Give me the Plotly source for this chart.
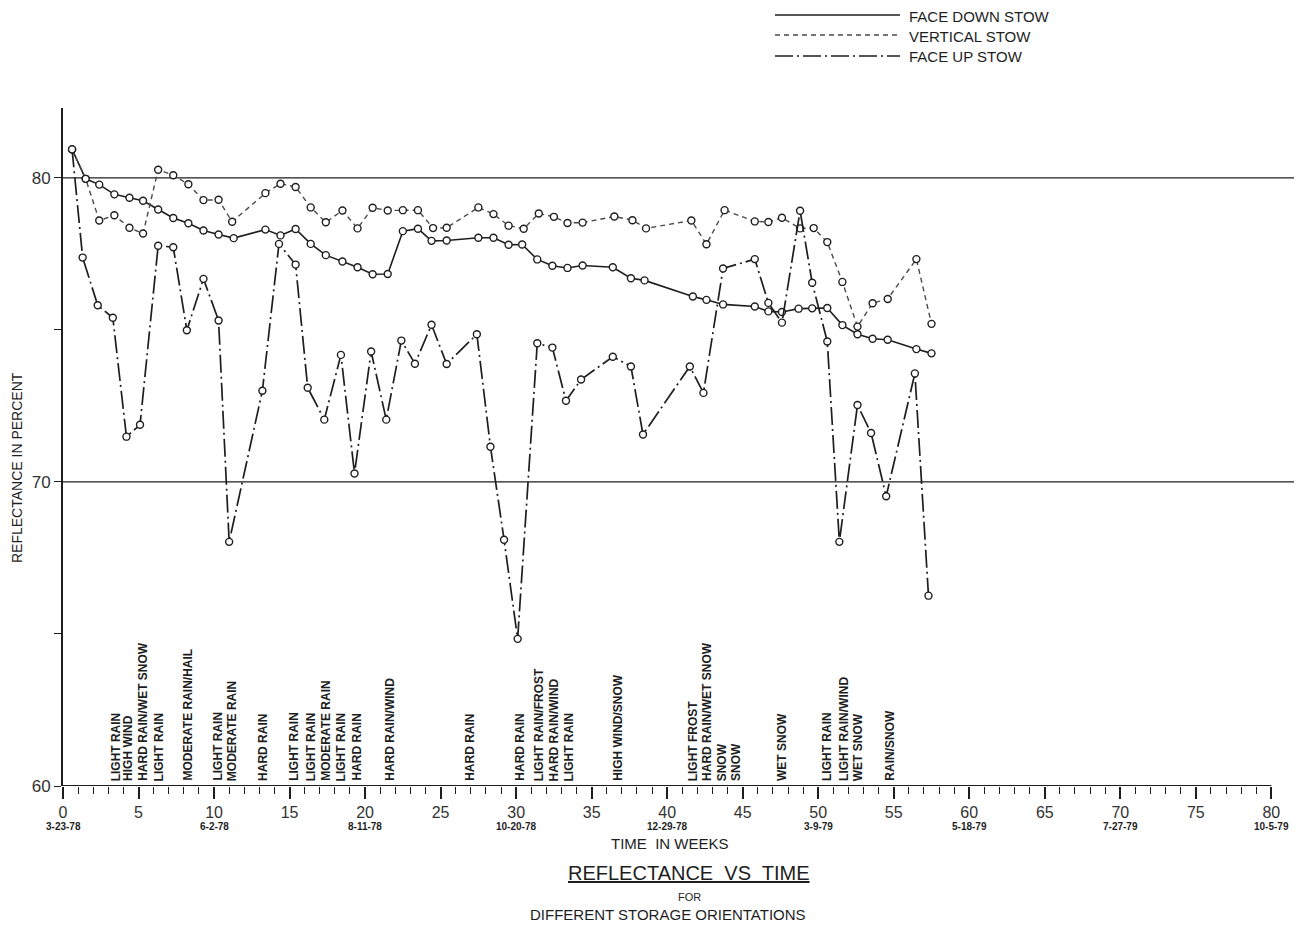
import plotly.graph_objects as go

# ---------------- data ----------------
weeks_down = [0.6, 1.5, 2.4, 3.4, 4.4, 5.3, 6.3, 7.3, 8.3, 9.3, 10.3, 11.3, 13.4, 14.4, 15.4,
              16.4, 17.4, 18.5, 19.5, 20.5, 21.5, 22.5, 23.5, 24.4, 25.4, 27.5, 28.5, 29.5,
              30.4, 31.4, 32.4, 33.4, 34.4, 36.4, 37.6, 38.5, 41.7, 42.6, 43.7, 45.8, 46.7,
              47.6, 48.7, 49.6, 50.6, 51.6, 52.6, 53.6, 54.6, 56.5, 57.5]
refl_down = [80.94, 79.97, 79.78, 79.46, 79.35, 79.25, 78.96, 78.68, 78.51, 78.27, 78.14, 78.02,
             78.30, 78.11, 78.32, 77.83, 77.46, 77.25, 77.06, 76.83, 76.84, 78.25, 78.33, 77.93,
             77.94, 78.03, 78.03, 77.80, 77.81, 77.32, 77.11, 77.04, 77.12, 77.06, 76.70, 76.63,
             76.10, 75.99, 75.84, 75.77, 75.61, 75.59, 75.70, 75.71, 75.72, 75.16, 74.86, 74.71,
             74.68, 74.37, 74.23]

weeks_vert = [0.6, 1.5, 2.4, 3.4, 4.4, 5.3, 6.3, 7.3, 8.3, 9.3, 10.3, 11.2, 13.4, 14.4, 15.4,
              16.4, 17.4, 18.5, 19.5, 20.5, 21.5, 22.5, 23.5, 24.5, 25.4, 27.5, 28.5, 29.5,
              30.5, 31.5, 32.5, 33.4, 34.4, 36.5, 37.7, 38.6, 41.6, 42.6, 43.8, 45.8, 46.7,
              47.6, 48.8, 49.7, 50.6, 51.6, 52.6, 53.6, 54.6, 56.5, 57.5]
refl_vert = [80.94, 79.97, 78.60, 78.77, 78.36, 78.17, 80.27, 80.09, 79.79, 79.27, 79.28, 78.56,
             79.50, 79.81, 79.70, 79.03, 78.54, 78.93, 78.34, 79.02, 78.93, 78.94, 78.94, 78.35,
             78.36, 79.03, 78.81, 78.43, 78.33, 78.83, 78.72, 78.52, 78.53, 78.73, 78.61, 78.34,
             78.60, 77.82, 78.94, 78.57, 78.55, 78.69, 78.34, 78.35, 77.89, 76.58, 75.11, 75.88,
             76.02, 77.33, 75.20]

weeks_up = [0.6, 1.3, 2.3, 3.3, 4.2, 5.1, 6.3, 7.3, 8.2, 9.3, 10.3, 11.0, 13.2, 14.3, 15.4,
            16.2, 17.3, 18.4, 19.3, 20.4, 21.4, 22.4, 23.3, 24.4, 25.4, 27.4, 28.3, 29.2,
            30.1, 31.4, 32.4, 33.3, 34.3, 36.4, 37.6, 38.4, 41.5, 42.4, 43.7, 45.8, 46.7,
            47.6, 48.8, 49.6, 50.6, 51.4, 52.6, 53.5, 54.5, 56.4, 57.3]
refl_up = [80.94, 77.38, 75.81, 75.40, 71.49, 71.88, 77.77, 77.72, 74.99, 76.68, 75.31, 68.03,
           73.00, 77.83, 77.15, 73.10, 72.05, 74.18, 70.28, 74.29, 72.05, 74.65, 73.89, 75.17,
           73.88, 74.86, 71.16, 68.10, 64.84, 74.56, 74.42, 72.67, 73.37, 74.12, 73.80, 71.56,
           73.80, 72.93, 77.02, 77.33, 75.89, 75.24, 78.92, 76.55, 74.62, 68.03, 72.53, 71.61,
           69.53, 73.57, 66.26]

weather_weeks = [3.5, 4.3, 5.25, 6.35, 8.25, 10.2, 11.2, 13.2, 15.25, 16.4, 17.4, 18.4, 19.4,
                 21.6, 26.9, 30.2, 31.5, 32.5, 33.5, 36.7, 41.7, 42.6, 43.65, 44.55, 47.6,
                 50.55, 51.7, 52.65, 54.7]
weather_labels = ["LIGHT RAIN", "HIGH WIND", "HARD RAIN/WET SNOW", "LIGHT RAIN",
                  "MODERATE RAIN/HAIL", "LIGHT RAIN", "MODERATE RAIN", "HARD RAIN",
                  "LIGHT RAIN", "LIGHT RAIN", "MODERATE RAIN", "LIGHT RAIN", "HARD RAIN",
                  "HARD RAIN/WIND", "HARD RAIN", "HARD RAIN", "LIGHT RAIN/FROST",
                  "HARD RAIN/WIND", "LIGHT RAIN", "HIGH WIND/SNOW", "LIGHT FROST",
                  "HARD RAIN/WET SNOW", "SNOW", "SNOW", "WET SNOW", "LIGHT RAIN",
                  "LIGHT RAIN/WIND", "WET SNOW", "RAIN/SNOW"]

x_ticks = list(range(0, 81, 5))
x_tick_labels = [str(v) for v in x_ticks]
date_weeks = [0, 10, 20, 30, 40, 50, 60, 70, 80]
date_labels = ["3-23-78", "6-2-78", "8-11-78", "10-20-78", "12-29-78",
               "3-9-79", "5-18-79", "7-27-79", "10-5-79"]
y_ticks = [60, 65, 70, 75, 80]
y_tick_labels = ["60", "", "70", "", "80"]
grid_levels = [70, 80]

series_names = ["FACE DOWN STOW", "VERTICAL STOW", "FACE UP STOW"]

# ---------------- styling ----------------
INK = "#1e1e1e"
FONT = "Liberation Sans"
dash_styles = ["solid", "5px,4px", "18px,4px,2px,4px"]
line_colors = [INK, "#4a4a4a", INK]
line_widths = [1.6, 1.4, 1.7]

fig = go.Figure()
for name, xs, ys, dash, col, lw in zip(series_names,
                                        [weeks_down, weeks_vert, weeks_up],
                                        [refl_down, refl_vert, refl_up],
                                        dash_styles, line_colors, line_widths):
    fig.add_trace(go.Scatter(
        x=xs, y=ys, name=name, mode="lines+markers",
        line=dict(color=col, width=lw, dash=dash),
        marker=dict(symbol="circle", size=7, color="white",
                    line=dict(color=INK, width=1.4)),
        showlegend=False,
    ))

shapes = []
# horizontal reference lines
for g in grid_levels:
    shapes.append(dict(type="line", xref="paper", yref="y", x0=0, x1=1, y0=g, y1=g,
                       line=dict(color=INK, width=1.3), layer="below"))
# x axis line ending at week 80
shapes.append(dict(type="line", xref="x", yref="y", x0=0, x1=80, y0=60, y1=60,
                   line=dict(color=INK, width=1.8)))

annotations = []
# weather annotations (vertical text)
for w, lab in zip(weather_weeks, weather_labels):
    annotations.append(dict(x=w, y=60, xref="x", yref="y", text="<b>%s</b>" % lab,
                            textangle=-90, showarrow=False, xanchor="center",
                            yanchor="bottom", yshift=3,
                            font=dict(family=FONT, size=12, color=INK)))
# dates below ticks
for w, lab in zip(date_weeks, date_labels):
    annotations.append(dict(x=w, y=60, xref="x", yref="y", text="<b>%s</b>" % lab,
                            showarrow=False, xanchor="center", yanchor="top", yshift=-33,
                            font=dict(family=FONT, size=10, color=INK)))

# manual legend (top right)
PL, PW, PB, PH = 63, 1231, 786, 678   # plot left, width, bottom, height (pixels)
def px2paper_x(px):
    return (px - PL) / PW
def px2paper_y(py):
    return (PB - py) / PH
legend_y = [15, 35, 56]
for name, dash, col, ly in zip(series_names, dash_styles, line_colors, legend_y):
    shapes.append(dict(type="line", xref="paper", yref="paper",
                       x0=px2paper_x(775), x1=px2paper_x(900),
                       y0=px2paper_y(ly), y1=px2paper_y(ly),
                       line=dict(color=col, width=1.4, dash=dash)))
    annotations.append(dict(x=px2paper_x(907), y=px2paper_y(ly + 1), xref="paper",
                            yref="paper", text=name, showarrow=False, xanchor="left",
                            yanchor="middle", font=dict(family=FONT, size=15, color=INK)))

# axis title / captions
captions = [
    (17, 468, "REFLECTANCE IN PERCENT", 14, -90),
    (670, 843, "TIME  IN WEEKS", 15, 0),
    (689, 873, "<u>REFLECTANCE  VS  TIME</u>", 20, 0),
    (689, 897, "FOR", 11, 0),
    (668, 914, "DIFFERENT STORAGE ORIENTATIONS", 15, 0),
]
for cx, cy, txt, fs, ang in captions:
    annotations.append(dict(x=px2paper_x(cx), y=px2paper_y(cy), xref="paper", yref="paper",
                            text=txt, textangle=ang, showarrow=False,
                            xanchor="center", yanchor="middle",
                            font=dict(family=FONT, size=fs, color=INK)))

fig.update_layout(
    width=1296, height=927, autosize=False,
    margin=dict(l=PL, r=1296 - PL - PW, t=PB - PH, b=927 - PB),
    paper_bgcolor="white", plot_bgcolor="white",
    shapes=shapes, annotations=annotations,
    xaxis=dict(range=[0, 81.5], showline=False, showgrid=False, zeroline=False,
               tickmode="array", tickvals=x_ticks, ticktext=x_tick_labels,
               ticks="outside", ticklen=12, tickwidth=1.5, tickcolor=INK,
               tickfont=dict(family=FONT, size=16, color="#333"),
               minor=dict(tickmode="array",
                          tickvals=[v for v in range(0, 81) if v % 5],
                          ticks="outside", ticklen=7, tickwidth=1.2, tickcolor=INK,
                          showgrid=False)),
    yaxis=dict(range=[60, 82.3], showline=True, linecolor=INK, linewidth=1.8,
               showgrid=False, zeroline=False, tickmode="array", tickvals=y_ticks,
               ticktext=y_tick_labels, ticks="outside", ticklen=7, tickwidth=1.4,
               tickcolor=INK, tickfont=dict(family=FONT, size=17, color="#333")),
)

fig.write_html("out.html")
